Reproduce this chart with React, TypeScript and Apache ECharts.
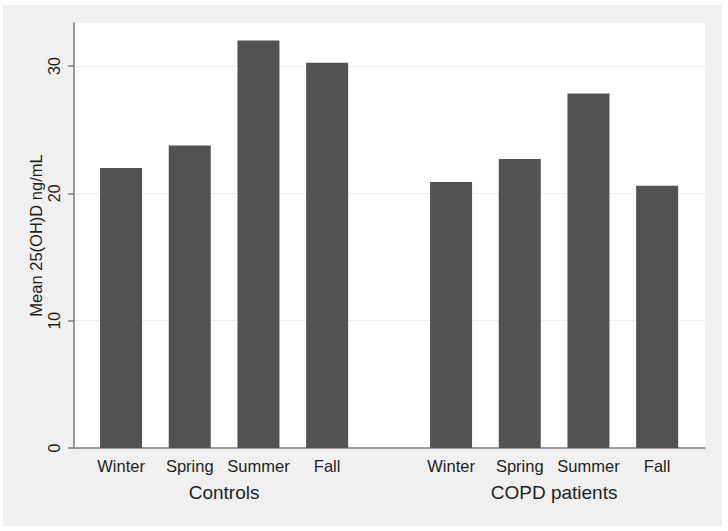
import React, { useEffect, useRef } from "react";
import * as echarts from "echarts";

const seasons = ["Winter", "Spring", "Summer", "Fall"];
const groupNames = ["Controls", "COPD patients"];
const controlsValues = [22.0, 23.75, 32.0, 30.25];
const copdValues = [20.9, 22.7, 27.85, 20.6];
const yTicks = [0, 10, 20, 30];
const yTitle = "Mean 25(OH)D ng/mL";

const FONT = "'Liberation Sans', Arial, Helvetica, sans-serif";
const YMAX = 33.38;

export default function App() {
  const ref = useRef<HTMLDivElement>(null);
  useEffect(() => {
    if (!ref.current) return;
    const chart = echarts.init(ref.current, undefined, { renderer: "svg" });
    const slot = 68.7;
    const gw = slot * 4;
    const hiddenY = (gi: number) => ({
      type: "value",
      gridIndex: gi,
      min: 0,
      max: YMAX,
      show: false,
    });
    const catX = (gi: number, name: string) => ({
      type: "category",
      gridIndex: gi,
      data: seasons,
      axisLine: { show: false },
      axisTick: { show: false },
      axisLabel: {
        interval: 0,
        hideOverlap: false,
        fontFamily: FONT,
        fontSize: 16.5,
        color: "#1e1e1e",
        margin: 9,
      },
      name,
      nameLocation: "middle",
      nameGap: 35,
      nameMoveOverlap: false,
      nameTextStyle: { fontFamily: FONT, fontSize: 19, color: "#1e1e1e" },
    });
    chart.setOption({
      animation: false,
      backgroundColor: "#ffffff",
      graphic: [
        {
          type: "rect",
          z: -100,
          silent: true,
          shape: { x: 3, y: 5, width: 719, height: 521 },
          style: { fill: "#f0f0f0" },
        },
      ],
      grid: [
        {
          left: 74,
          top: 23,
          width: 631,
          height: 425,
          show: true,
          backgroundColor: "#ffffff",
          borderWidth: 0,
        },
        { left: 86.7, top: 23, width: gw, height: 425 },
        { left: 416.7, top: 23, width: gw, height: 425 },
      ],
      xAxis: [
        {
          type: "value",
          gridIndex: 0,
          min: 0,
          max: 1,
          axisLine: { show: true, onZero: false, lineStyle: { color: "#7d7d7d", width: 1.5 } },
          axisTick: { show: false },
          axisLabel: { show: false },
          splitLine: { show: false },
        },
        catX(1, groupNames[0]),
        catX(2, groupNames[1]),
      ],
      yAxis: [
        {
          type: "value",
          gridIndex: 0,
          min: 0,
          max: YMAX,
          interval: 10,
          name: yTitle,
          nameLocation: "middle",
          nameGap: 30,
          nameMoveOverlap: false,
          nameTextStyle: { fontFamily: FONT, fontSize: 16.5, color: "#1e1e1e" },
          axisLine: { show: true, lineStyle: { color: "#7d7d7d", width: 1.5 } },
          axisTick: {
            show: true,
            length: 6,
            customValues: yTicks,
            lineStyle: { color: "#7d7d7d", width: 1.5 },
          },
          axisLabel: {
            customValues: yTicks,
            rotate: 90,
            margin: 12,
            fontFamily: FONT,
            fontSize: 16,
            color: "#1e1e1e",
          },
          splitLine: { show: true, lineStyle: { color: "#efefef", width: 1 } },
        },
        hiddenY(1),
        hiddenY(2),
      ],
      series: [
        {
          type: "bar",
          xAxisIndex: 1,
          yAxisIndex: 1,
          data: controlsValues,
          barWidth: 42,
          itemStyle: { color: "#525252" },
        },
        {
          type: "bar",
          xAxisIndex: 2,
          yAxisIndex: 2,
          data: copdValues,
          barWidth: 42,
          itemStyle: { color: "#525252" },
        },
      ],
    });
    return () => chart.dispose();
  }, []);
  return (
    <div
      ref={ref}
      style={{ position: "absolute", left: 0, top: 0, width: 728, height: 531 }}
    />
  );
}
